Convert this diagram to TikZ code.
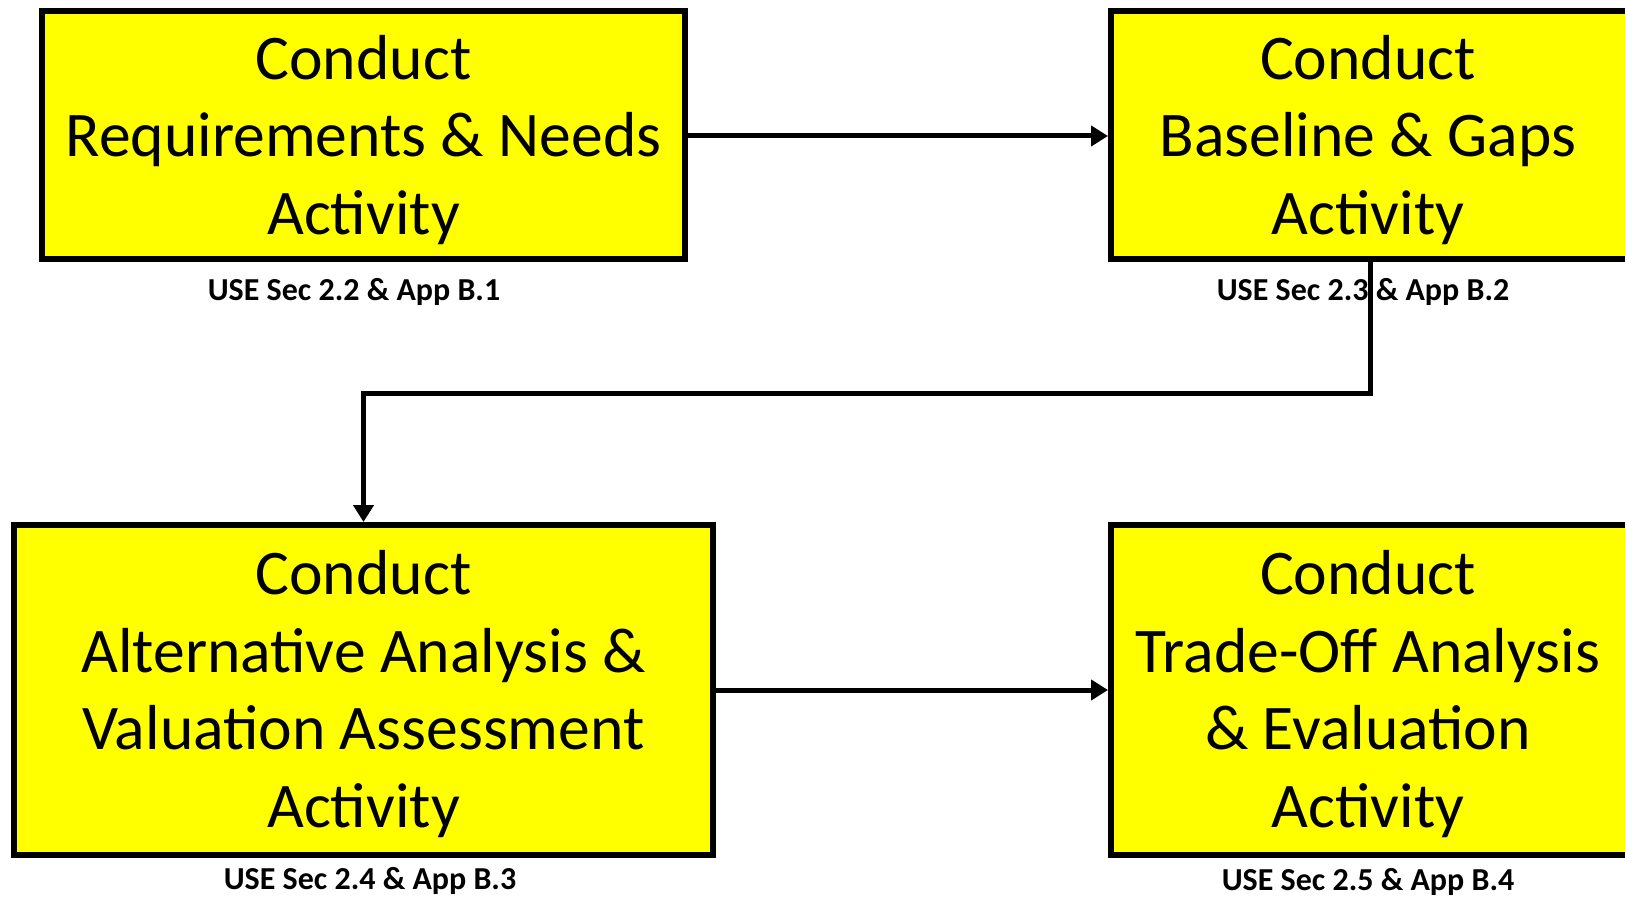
\documentclass[tikz,border=0pt]{standalone}
\usepackage{fontspec}
\setmainfont{Carlito}
\usetikzlibrary{arrows.meta}
\definecolor{boxfill}{RGB}{255,255,0}
\begin{document}
\begin{tikzpicture}[x=0.5pt,y=-0.5pt,
  activity/.style={draw=black, fill=boxfill, line width=3pt, rectangle, inner sep=0pt},
  caption/.style={align=center, inner sep=0pt, font=\fontsize{31.8}{38.9}\selectfont},
  ref/.style={font=\fontsize{16}{18}\selectfont\bfseries, inner sep=0pt},
  conn/.style={draw=black, line width=2.5pt,
    -{Triangle[length=8.5pt,width=10pt]}}]
\useasboundingbox (0,0) rectangle (1625,898);
% activity boxes
\node[activity, minimum width=643*0.5pt, minimum height=248*0.5pt] (req) at (363.5,135) {};
\node[activity, minimum width=520*0.5pt, minimum height=248*0.5pt] (base) at (1371,135) {};
\node[activity, minimum width=699*0.5pt, minimum height=330*0.5pt] (alt) at (363.5,690) {};
\node[activity, minimum width=520*0.5pt, minimum height=330*0.5pt] (trade) at (1371,690) {};
% box texts
\node[caption] (reqtext) at (363.5,140) {Conduct\\Requirements \& Needs\\Activity};
\node[caption] (basetext) at (1368,140) {Conduct\\Baseline \& Gaps\\Activity};
\node[caption] (alttext) at (363.5,694) {Conduct\\Alternative Analysis \&\\Valuation Assessment\\Activity};
\node[caption] (tradetext) at (1368,694) {Conduct\\Trade-Off Analysis\\\& Evaluation\\Activity};
% section references
\node[ref] (reqref) at (354,292) {USE Sec 2.2 \& App B.1};
\node[ref] (baseref) at (1363,292) {USE Sec 2.3 \& App B.2};
\node[ref] (altref) at (370,881) {USE Sec 2.4 \& App B.3};
\node[ref] (traderef) at (1368,882) {USE Sec 2.5 \& App B.4};
% flow
\coordinate (turn) at (0,393);
\draw[conn] (req.east |- 0,136) -- (base.west |- 0,136);
\draw[conn] (base.south -| 1370,0) -- (turn -| 1370,0) -- (turn -| alt.north) -- (alt.north);
\draw[conn] (alt.east) -- (trade.west);
\end{tikzpicture}
\end{document}
